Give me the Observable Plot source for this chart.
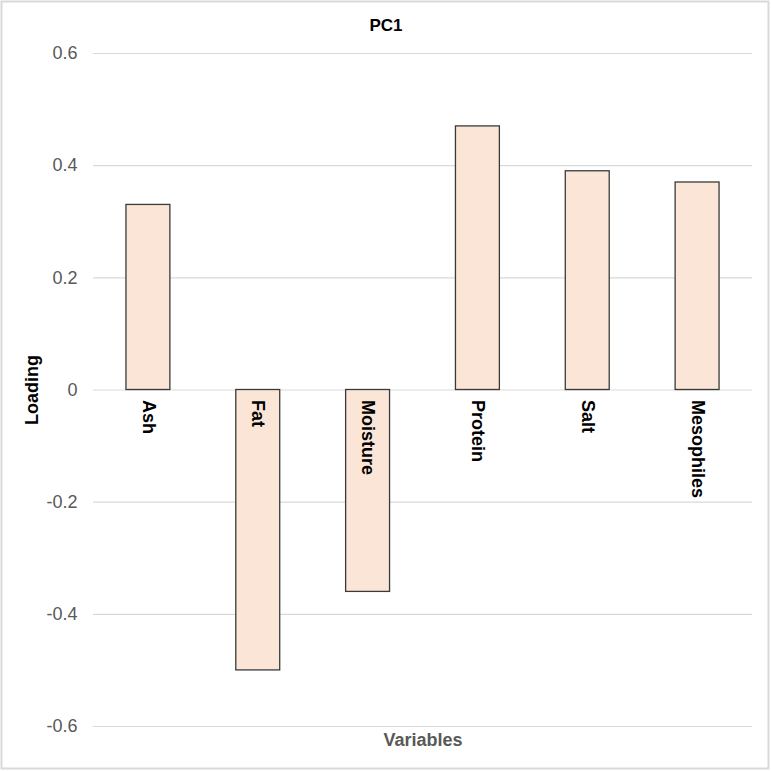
<!DOCTYPE html>
<html>
<head>
<meta charset="utf-8">
<script src="https://cdn.jsdelivr.net/npm/d3@7"></script>
<script src="https://cdn.jsdelivr.net/npm/@observablehq/plot@0.6"></script>
<style>
  body { margin: 0; background: #fff; }
  #chart svg { display: block; }
</style>
</head>
<body>
<div id="chart"></div>
<script>
// PC1 loadings per variable
const variables = ["Ash", "Fat", "Moisture", "Protein", "Salt", "Mesophiles"];
const loadings = [0.33, -0.50, -0.36, 0.47, 0.39, 0.37];
const yTicks = [-0.6, -0.4, -0.2, 0, 0.2, 0.4, 0.6];

const data = variables.map((v, i) => ({variable: v, loading: loadings[i]}));

const W = 771, H = 771;
const mL = 93, mR = 19;
const font = "'Liberation Sans', Arial, sans-serif";
const fmt = d => d === 0 ? "0" : d.toFixed(1);

const chart = Plot.plot({
  width: W,
  height: H,
  marginLeft: mL,
  marginRight: mR,
  marginTop: 53,
  marginBottom: 45,
  style: {fontFamily: font, background: "#fff"},
  x: {domain: variables, paddingInner: 0.6, paddingOuter: 0.3, round: false, axis: null},
  y: {domain: [-0.6, 0.6], ticks: yTicks, label: null, axis: null},
  marks: [
    Plot.gridY(yTicks, {stroke: "#d9d9d9", strokeOpacity: 1, strokeWidth: 1.2}),
    Plot.axisY({ticks: yTicks, tickSize: 0, tickPadding: 16, fontSize: 18, fill: "#595959",
      tickFormat: fmt, label: null}),
    Plot.barY(data, {x: "variable", y: "loading", fill: "#FBE5D6", stroke: "#3a3a3a", strokeWidth: 1.3}),
    Plot.text(data, {x: "variable", y: () => 0, text: "variable", rotate: 90,
      textAnchor: "start", lineAnchor: "middle", dy: 10, fontSize: 18, fontWeight: "bold", fill: "#000"}),
    // title centred on the whole figure
    Plot.text(["PC1"], {frameAnchor: "top", dx: W / 2 - (mL + (W - mL - mR) / 2), dy: -35,
      fontSize: 17, fontWeight: "bold", fill: "#000"}),
    Plot.text(["Variables"], {frameAnchor: "bottom", dy: 19, fontSize: 18, fontWeight: "bold", fill: "#595959"}),
    Plot.text(["Loading"], {frameAnchor: "left", dx: -61, rotate: -90, textAnchor: "middle",
      fontSize: 18, fontWeight: "bold", fill: "#000"})
  ]
});

// outer border of the figure
d3.select(chart).append("rect")
  .attr("x", 1.5).attr("y", 1.5)
  .attr("width", W - 4).attr("height", H - 4)
  .attr("fill", "none").attr("stroke", "#d9d9d9").attr("stroke-width", 2);

document.getElementById("chart").appendChild(chart);
</script>
</body>
</html>
